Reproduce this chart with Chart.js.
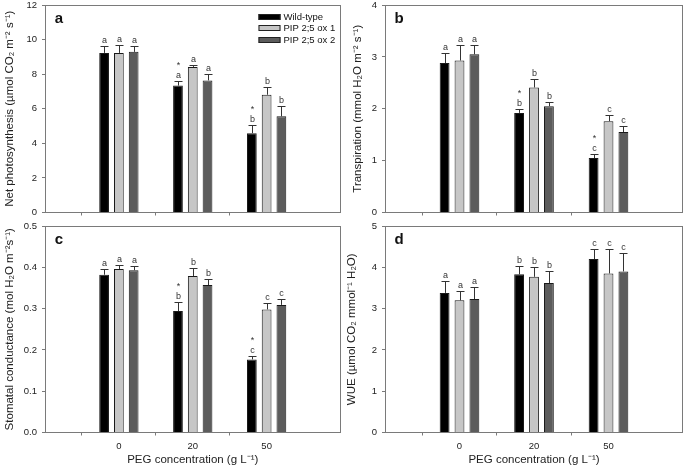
<!DOCTYPE html>
<html>
<head>
<meta charset="utf-8">
<script src="https://cdn.jsdelivr.net/npm/chart.js@4.4.1/dist/chart.umd.min.js"></script>
<style>
body { margin: 0; background: #fff; overflow: hidden; }
#wrap { position: relative; width: 685px; height: 467px; }
canvas { position: absolute; }
</style>
</head>
<body>
<div id="wrap">
<canvas id="chA" width="342" height="224" style="left:0;top:0"></canvas>
<canvas id="chB" width="343" height="224" style="left:342px;top:0"></canvas>
<canvas id="chC" width="342" height="251" style="left:0;top:216px"></canvas>
<canvas id="chD" width="343" height="251" style="left:342px;top:216px"></canvas>
</div>
<script>
var groups = ['0', '20', '50'];
var names = ['Wild-type', 'PIP 2;5 ox 1', 'PIP 2;5 ox 2'];
var fills = ['#000000', '#c6c6c6', '#5c5c5c'];

// a - net photosynthesis
var photoWT = [9.23, 7.34, 4.59];
var photoOx1 = [9.23, 8.42, 6.81];
var photoOx2 = [9.29, 7.64, 5.56];
var photoErrWT = [0.38, 0.25, 0.49];
var photoErrOx1 = [0.44, 0.13, 0.47];
var photoErrOx2 = [0.32, 0.39, 0.62];
var photoLetters = ['a', 'a', 'b'];
var photoStars = [false, true, true];

// b - transpiration
var transWT = [2.88, 1.92, 1.05];
var transOx1 = [2.93, 2.41, 1.76];
var transOx2 = [3.05, 2.05, 1.55];
var transErrWT = [0.20, 0.07, 0.08];
var transErrOx1 = [0.29, 0.16, 0.11];
var transErrOx2 = [0.17, 0.08, 0.12];
var transLetters = ['a', 'b', 'c'];
var transStars = [false, true, true];

// c - stomatal conductance
var condWT = [0.382, 0.294, 0.177];
var condOx1 = [0.396, 0.379, 0.298];
var condOx2 = [0.393, 0.357, 0.309];
var condErrWT = [0.013, 0.021, 0.008];
var condErrOx1 = [0.009, 0.019, 0.016];
var condErrOx2 = [0.009, 0.014, 0.014];
var condLetters = ['a', 'b', 'c'];
var condStars = [false, true, true];

// d - WUE
var wueWT = [3.38, 3.83, 4.20];
var wueOx1 = [3.20, 3.77, 3.85];
var wueOx2 = [3.23, 3.62, 3.90];
var wueErrWT = [0.30, 0.20, 0.24];
var wueErrOx1 = [0.23, 0.23, 0.59];
var wueErrOx2 = [0.29, 0.29, 0.44];
var wueLetters = ['a', 'b', 'c'];
var wueStars = [false, false, false];

var FONT = '"Liberation Sans", Arial, sans-serif';
var AXIS = '#7a7a7a';
Chart.defaults.font.family = FONT;
Chart.defaults.color = '#222';

// error bars, letters, frame, panel tag, legend
var marks = {
  id: 'marks',
  afterDatasetsDraw: function(chart, args, opt) {
    var ctx = chart.ctx, ys = chart.scales.y;
    ctx.save();
    ctx.strokeStyle = '#333';
    ctx.lineWidth = 1;
    ctx.fillStyle = '#333';
    ctx.font = '9px ' + FONT;
    ctx.textAlign = 'center';
    ctx.textBaseline = 'alphabetic';
    chart.data.datasets.forEach(function(ds, i) {
      chart.getDatasetMeta(i).data.forEach(function(bar, j) {
        var x = Math.round(bar.x) + 0.5;
        var top = Math.round(ys.getPixelForValue(ds.data[j].y + ds.err[j])) + 0.5;
        ctx.beginPath();
        ctx.moveTo(x, bar.y);
        ctx.lineTo(x, top);
        ctx.moveTo(x - 4, top);
        ctx.lineTo(x + 4, top);
        ctx.stroke();
        ctx.fillText(opt.letters[j], x, top - 3.5);
        if (i === 0 && opt.stars[j]) ctx.fillText('*', x, top - 13.5);
      });
    });
    ctx.restore();
  },
  afterDraw: function(chart, args, opt) {
    var ctx = chart.ctx, a = chart.chartArea;
    ctx.save();
    ctx.strokeStyle = AXIS;
    ctx.lineWidth = 1;
    var l = Math.round(a.left) + 0.5, t = Math.round(a.top) + 0.5;
    var r = Math.round(a.right) - 0.5, b = Math.round(a.bottom) - 0.5;
    ctx.strokeRect(l, t, r - l, b - t);
    ctx.fillStyle = '#111';
    ctx.font = 'bold 15px ' + FONT;
    ctx.textAlign = 'center';
    ctx.textBaseline = 'middle';
    ctx.fillText(opt.tag, a.left + 14, a.top + 14);
    if (opt.legend) {
      ctx.font = '9.5px ' + FONT;
      ctx.textAlign = 'left';
      chart.data.datasets.forEach(function(ds, i) {
        var yy = Math.round(a.top + 11.5 + i * 11.7);
        ctx.fillStyle = ds.backgroundColor;
        ctx.fillRect(a.right - 82, yy - 3, 22, 6);
        ctx.strokeStyle = '#222';
        ctx.strokeRect(a.right - 82 + 0.5, yy - 3 + 0.5, 21, 5);
        ctx.fillStyle = '#111';
        ctx.fillText(ds.label, a.right - 57, yy + 0.5);
      });
    }
    ctx.restore();
  }
};

function makePanel(id, p) {
  var datasets = p.values.map(function(vals, i) {
    return {
      label: names[i],
      data: vals.map(function(v, j) { return { x: j + 1, y: v }; }),
      err: p.errors[i],
      backgroundColor: fills[i],
      borderColor: '#1a1a1a',
      borderWidth: 1,
      categoryPercentage: 0.6,
      barPercentage: 0.66
    };
  });
  return new Chart(document.getElementById(id), {
    type: 'bar',
    data: { datasets: datasets },
    plugins: [marks],
    options: {
      responsive: false,
      animation: false,
      events: [],
      layout: { padding: { left: 0, top: p.padTop, right: p.padRight, bottom: 0 } },
      plugins: {
        legend: { display: false },
        tooltip: { enabled: false },
        marks: { letters: p.letters, stars: p.stars, tag: p.tag, legend: p.legend }
      },
      scales: {
        x: {
          type: 'linear',
          min: 0,
          max: 4,
          offset: false,
          border: { display: false },
          grid: {
            drawOnChartArea: false,
            tickLength: 3,
            color: function(c) {
              return c.tick && c.tick.value > 0 && c.tick.value < 4 ? AXIS : 'rgba(0,0,0,0)';
            }
          },
          ticks: {
            display: p.bottom,
            stepSize: 1,
            padding: 5,
            font: { size: 9.5 },
            callback: function(v) { return groups[v - 1] || ''; }
          },
          title: {
            display: p.bottom,
            text: 'PEG concentration (g L⁻¹)',
            font: { size: 11.5 },
            padding: { top: 0, bottom: 0 }
          },
          afterFit: function(s) { s.height = p.xHeight; s.paddingLeft = 0; s.paddingRight = 0; }
        },
        y: {
          min: 0,
          max: p.yMax,
          border: { display: false },
          grid: { drawOnChartArea: false, tickLength: 3, color: AXIS },
          ticks: {
            stepSize: p.yStep,
            padding: 5,
            font: { size: 9.5 },
            callback: function(v) { return v.toFixed(p.dec); }
          },
          title: {
            display: true,
            text: p.yTitle,
            font: { size: 11.5 },
            padding: { top: p.titlePad, bottom: 0 }
          },
          afterFit: function(s) { s.width = p.yWidth; s.paddingTop = 0; s.paddingBottom = 0; }
        }
      }
    }
  });
}

makePanel('chA', {
  values: [photoWT, photoOx1, photoOx2],
  errors: [photoErrWT, photoErrOx1, photoErrOx2],
  letters: photoLetters, stars: photoStars, tag: 'a', legend: true,
  yMax: 12, yStep: 2, dec: 0,
  yTitle: 'Net photosynthesis (µmol CO₂ m⁻² s⁻¹)',
  bottom: false, xHeight: 11.5, padTop: 5, padRight: 1.5, yWidth: 45, titlePad: 2.5
});
makePanel('chB', {
  values: [transWT, transOx1, transOx2],
  errors: [transErrWT, transErrOx1, transErrOx2],
  letters: transLetters, stars: transStars, tag: 'b', legend: false,
  yMax: 4, yStep: 1, dec: 0,
  yTitle: 'Transpiration (mmol H₂O m⁻² s⁻¹)',
  bottom: false, xHeight: 11.5, padTop: 5, padRight: 2, yWidth: 43, titlePad: 8.5
});
makePanel('chC', {
  values: [condWT, condOx1, condOx2],
  errors: [condErrWT, condErrOx1, condErrOx2],
  letters: condLetters, stars: condStars, tag: 'c', legend: false,
  yMax: 0.5, yStep: 0.1, dec: 1,
  yTitle: 'Stomatal conductance (mol H₂O m⁻²s⁻¹)',
  bottom: true, xHeight: 34.5, padTop: 10, padRight: 1.5, yWidth: 45, titlePad: 2.5
});
makePanel('chD', {
  values: [wueWT, wueOx1, wueOx2],
  errors: [wueErrWT, wueErrOx1, wueErrOx2],
  letters: wueLetters, stars: wueStars, tag: 'd', legend: false,
  yMax: 5, yStep: 1, dec: 0,
  yTitle: 'WUE (µmol CO₂ mmol⁻¹ H₂O)',
  bottom: true, xHeight: 34.5, padTop: 10, padRight: 2, yWidth: 43, titlePad: 2.5
});
</script>
</body>
</html>
